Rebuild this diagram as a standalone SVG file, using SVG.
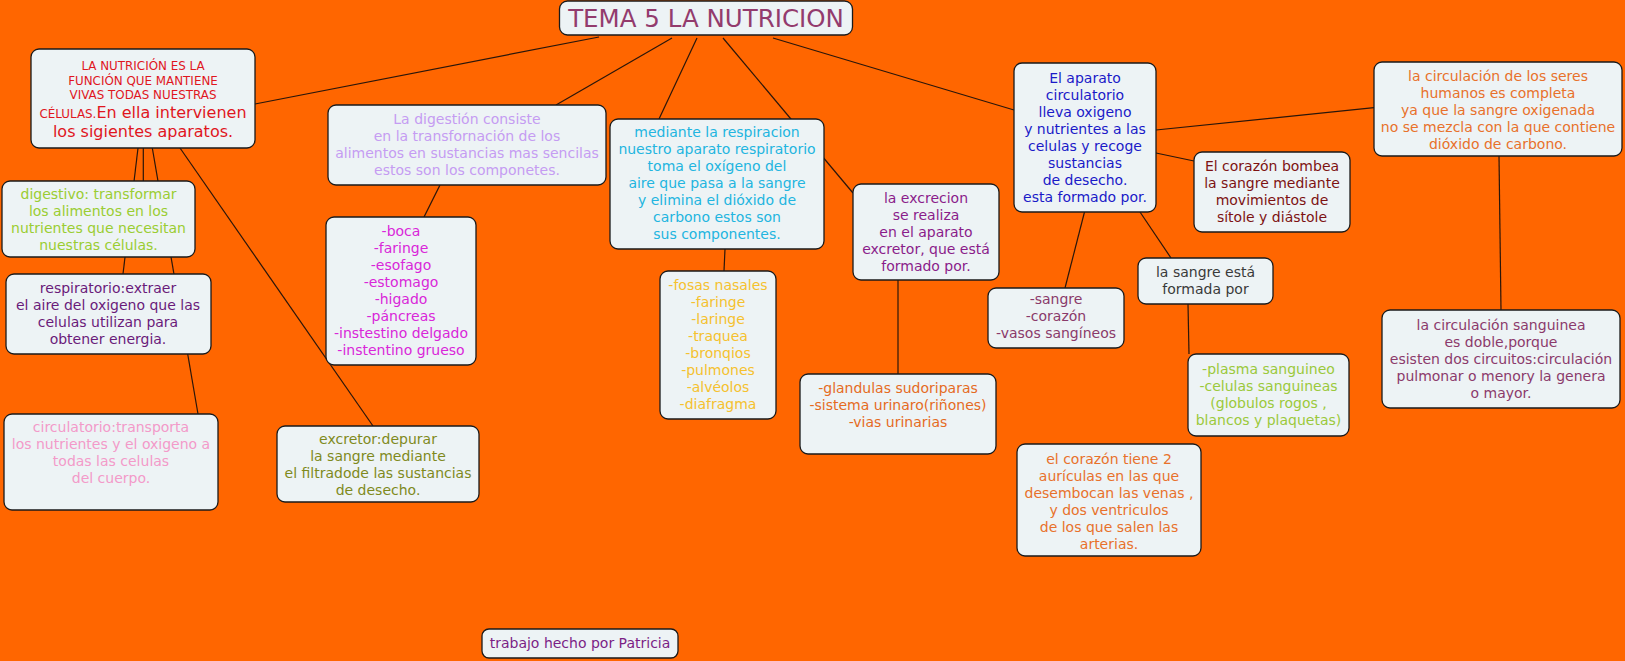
<svg xmlns="http://www.w3.org/2000/svg" width="1625" height="661" viewBox="0 0 1625 661">
<style>
.n rect{fill:#edf3f5;stroke:#1a1a1a;stroke-width:1.3}
text{font-family:"DejaVu Sans",Verdana,sans-serif;font-size:14px;text-anchor:middle}
#connectors line{stroke:#2a160a;stroke-width:1.2}
</style>
<rect x="0" y="0" width="1625" height="661" fill="#ff6600"/>
<g id="connectors">
<line x1="599" y1="37" x2="255" y2="104"/>
<line x1="672" y1="38" x2="556" y2="105"/>
<line x1="697" y1="38" x2="659" y2="119"/>
<line x1="723" y1="38" x2="853" y2="193"/>
<line x1="773" y1="38" x2="1014" y2="110"/>
<line x1="138" y1="148" x2="123" y2="274"/>
<line x1="143.3" y1="148" x2="143.3" y2="181"/>
<line x1="152.3" y1="148" x2="198" y2="414"/>
<line x1="180" y1="148" x2="373" y2="426"/>
<line x1="440" y1="185" x2="424" y2="217"/>
<line x1="725" y1="249" x2="724" y2="271"/>
<line x1="898" y1="280" x2="898" y2="374"/>
<line x1="1156" y1="130" x2="1374" y2="107.7"/>
<line x1="1156" y1="153" x2="1194" y2="161"/>
<line x1="1084.5" y1="212" x2="1065" y2="288"/>
<line x1="1140" y1="212" x2="1171" y2="258"/>
<line x1="1188" y1="304" x2="1189" y2="354"/>
<line x1="1499" y1="156" x2="1501" y2="310"/>
</g>
<g id="title" class="n">
<rect x="559.5" y="1" width="293" height="34" rx="8"/>
<text x="706" y="26.5" style="font-size:24.5px" fill="#933b6d">TEMA 5 LA NUTRICION</text>
</g>
<g id="nutricion" class="n">
<rect x="31" y="49" width="224" height="99" rx="8"/>
<text fill="#e0161e" style="font-size:11.9px"><tspan x="143" y="70">LA NUTRICIÓN ES LA</tspan><tspan x="143" y="84.6">FUNCIÓN QUE MANTIENE</tspan><tspan x="143" y="99">VIVAS TODAS NUESTRAS</tspan></text>
<text fill="#e0161e" x="143" y="118.3"><tspan style="font-size:11.9px">CÉLULAS.</tspan><tspan style="font-size:16px">En ella intervienen</tspan></text>
<text fill="#e0161e" x="143" y="137" style="font-size:16px">los sigientes aparatos.</text>
</g>
<g id="digestion" class="n">
<rect x="328" y="105" width="278" height="80" rx="8"/>
<text fill="#c59cf2"><tspan x="467" y="123.5">La digestión consiste</tspan><tspan x="467" y="140.5">en la transfornación de los</tspan><tspan x="467" y="157.5">alimentos en sustancias mas sencilas</tspan><tspan x="467" y="174.5">estos son los componetes.</tspan></text>
</g>
<g id="boca" class="n">
<rect x="326" y="217" width="150" height="148" rx="8"/>
<text fill="#d926d9"><tspan x="401" y="236">-boca</tspan><tspan x="401" y="253">-faringe</tspan><tspan x="401" y="270">-esofago</tspan><tspan x="401" y="287">-estomago</tspan><tspan x="401" y="304">-higado</tspan><tspan x="401" y="321">-páncreas</tspan><tspan x="401" y="338">-instestino delgado</tspan><tspan x="401" y="355">-instentino grueso</tspan></text>
</g>
<g id="respiracion" class="n">
<rect x="610" y="119" width="214" height="130" rx="8"/>
<text fill="#22b5e0"><tspan x="717" y="137">mediante la respiracion</tspan><tspan x="717" y="154">nuestro aparato respiratorio</tspan><tspan x="717" y="171">toma el oxígeno del</tspan><tspan x="717" y="188">aire que pasa a la sangre</tspan><tspan x="717" y="205">y elimina el dióxido de</tspan><tspan x="717" y="222">carbono estos son</tspan><tspan x="717" y="239">sus componentes.</tspan></text>
</g>
<g id="fosas" class="n">
<rect x="660" y="271" width="116" height="148" rx="8"/>
<text fill="#f5c12e"><tspan x="718" y="290">-fosas nasales</tspan><tspan x="718" y="307">-faringe</tspan><tspan x="718" y="324">-laringe</tspan><tspan x="718" y="341">-traquea</tspan><tspan x="718" y="358">-bronqios</tspan><tspan x="718" y="375">-pulmones</tspan><tspan x="718" y="392">-alvéolos</tspan><tspan x="718" y="409">-diafragma</tspan></text>
</g>
<g id="excrecion" class="n">
<rect x="853" y="184" width="146" height="96" rx="8"/>
<text fill="#8a1c8a"><tspan x="926" y="203">la excrecion</tspan><tspan x="926" y="220">se realiza</tspan><tspan x="926" y="237">en el aparato</tspan><tspan x="926" y="254">excretor, que está</tspan><tspan x="926" y="271">formado por.</tspan></text>
</g>
<g id="glandulas" class="n">
<rect x="800" y="374" width="196" height="80" rx="8"/>
<text fill="#e56b1f"><tspan x="898" y="393">-glandulas sudoriparas</tspan><tspan x="898" y="410">-sistema urinaro(riñones)</tspan><tspan x="898" y="427">-vias urinarias</tspan></text>
</g>
<g id="circulatorio" class="n">
<rect x="1014" y="63" width="142" height="149" rx="8"/>
<text fill="#1a1ac8"><tspan x="1085" y="83">El aparato</tspan><tspan x="1085" y="100">circulatorio</tspan><tspan x="1085" y="117">lleva oxigeno</tspan><tspan x="1085" y="134">y nutrientes a las</tspan><tspan x="1085" y="151">celulas y recoge</tspan><tspan x="1085" y="168">sustancias</tspan><tspan x="1085" y="185">de desecho.</tspan><tspan x="1085" y="202">esta formado por.</tspan></text>
</g>
<g id="completa" class="n">
<rect x="1374" y="62" width="248" height="94" rx="8"/>
<text fill="#e8712b"><tspan x="1498" y="81">la circulación de los seres</tspan><tspan x="1498" y="98">humanos es completa</tspan><tspan x="1498" y="115">ya que la sangre oxigenada</tspan><tspan x="1498" y="132">no se mezcla con la que contiene</tspan><tspan x="1498" y="149">dióxido de carbono.</tspan></text>
</g>
<g id="bombea" class="n">
<rect x="1194" y="152" width="156" height="80" rx="8"/>
<text fill="#7d1212"><tspan x="1272" y="171">El corazón bombea</tspan><tspan x="1272" y="188">la sangre mediante</tspan><tspan x="1272" y="205">movimientos de</tspan><tspan x="1272" y="222">sítole y diástole</tspan></text>
</g>
<g id="sangre_formada" class="n">
<rect x="1138" y="258" width="135" height="46" rx="8"/>
<text fill="#3a3a3a"><tspan x="1205.5" y="277">la sangre está</tspan><tspan x="1205.5" y="294">formada por</tspan></text>
</g>
<g id="sangre_lista" class="n">
<rect x="988" y="288" width="136" height="60" rx="8"/>
<text fill="#8a3a6a"><tspan x="1056" y="304">-sangre</tspan><tspan x="1056" y="321">-corazón</tspan><tspan x="1056" y="338">-vasos sangíneos</tspan></text>
</g>
<g id="plasma" class="n">
<rect x="1188" y="354" width="161" height="82" rx="8"/>
<text fill="#9bc93b"><tspan x="1268.5" y="374">-plasma sanguineo</tspan><tspan x="1268.5" y="391">-celulas sanguineas</tspan><tspan x="1268.5" y="408">(globulos rogos ,</tspan><tspan x="1268.5" y="425">blancos y plaquetas)</tspan></text>
</g>
<g id="doble" class="n">
<rect x="1382" y="310" width="238" height="98" rx="8"/>
<text fill="#8b3a6b"><tspan x="1501" y="330">la circulación sanguinea</tspan><tspan x="1501" y="347">es doble,porque</tspan><tspan x="1501" y="364">esisten dos circuitos:circulación</tspan><tspan x="1501" y="381">pulmonar o menory la genera</tspan><tspan x="1501" y="398">o mayor.</tspan></text>
</g>
<g id="corazon2" class="n">
<rect x="1017" y="444" width="184" height="112" rx="8"/>
<text fill="#e8712b"><tspan x="1109" y="464">el corazón tiene 2</tspan><tspan x="1109" y="481">aurículas en las que</tspan><tspan x="1109" y="498">desembocan las venas ,</tspan><tspan x="1109" y="515">y dos ventriculos</tspan><tspan x="1109" y="532">de los que salen las</tspan><tspan x="1109" y="549">arterias.</tspan></text>
</g>
<g id="digestivo" class="n">
<rect x="2" y="181" width="193" height="76" rx="8"/>
<text fill="#9acd32"><tspan x="98.5" y="199">digestivo: transformar</tspan><tspan x="98.5" y="216">los alimentos en los</tspan><tspan x="98.5" y="233">nutrientes que necesitan</tspan><tspan x="98.5" y="250">nuestras células.</tspan></text>
</g>
<g id="respiratorio" class="n">
<rect x="6" y="274" width="205" height="80" rx="8"/>
<text fill="#6a1b7a"><tspan x="108" y="292.5">respiratorio:extraer</tspan><tspan x="108" y="309.5">el aire del oxigeno que las</tspan><tspan x="108" y="326.5">celulas utilizan para</tspan><tspan x="108" y="343.5">obtener energia.</tspan></text>
</g>
<g id="circ_transporta" class="n">
<rect x="4" y="414" width="214" height="96" rx="8"/>
<text fill="#f39ac9"><tspan x="111" y="432">circulatorio:transporta</tspan><tspan x="111" y="449">los nutrientes y el oxigeno a</tspan><tspan x="111" y="466">todas las celulas</tspan><tspan x="111" y="483">del cuerpo.</tspan></text>
</g>
<g id="excretor" class="n">
<rect x="277" y="426" width="202" height="76" rx="8"/>
<text fill="#7f8a1c"><tspan x="378" y="444">excretor:depurar</tspan><tspan x="378" y="461">la sangre mediante</tspan><tspan x="378" y="478">el filtradode las sustancias</tspan><tspan x="378" y="495">de desecho.</tspan></text>
</g>
<g id="autor" class="n">
<rect x="482" y="629" width="196" height="29" rx="7"/>
<text x="580" y="648" fill="#7b1f85">trabajo hecho por Patricia</text>
</g>
</svg>
